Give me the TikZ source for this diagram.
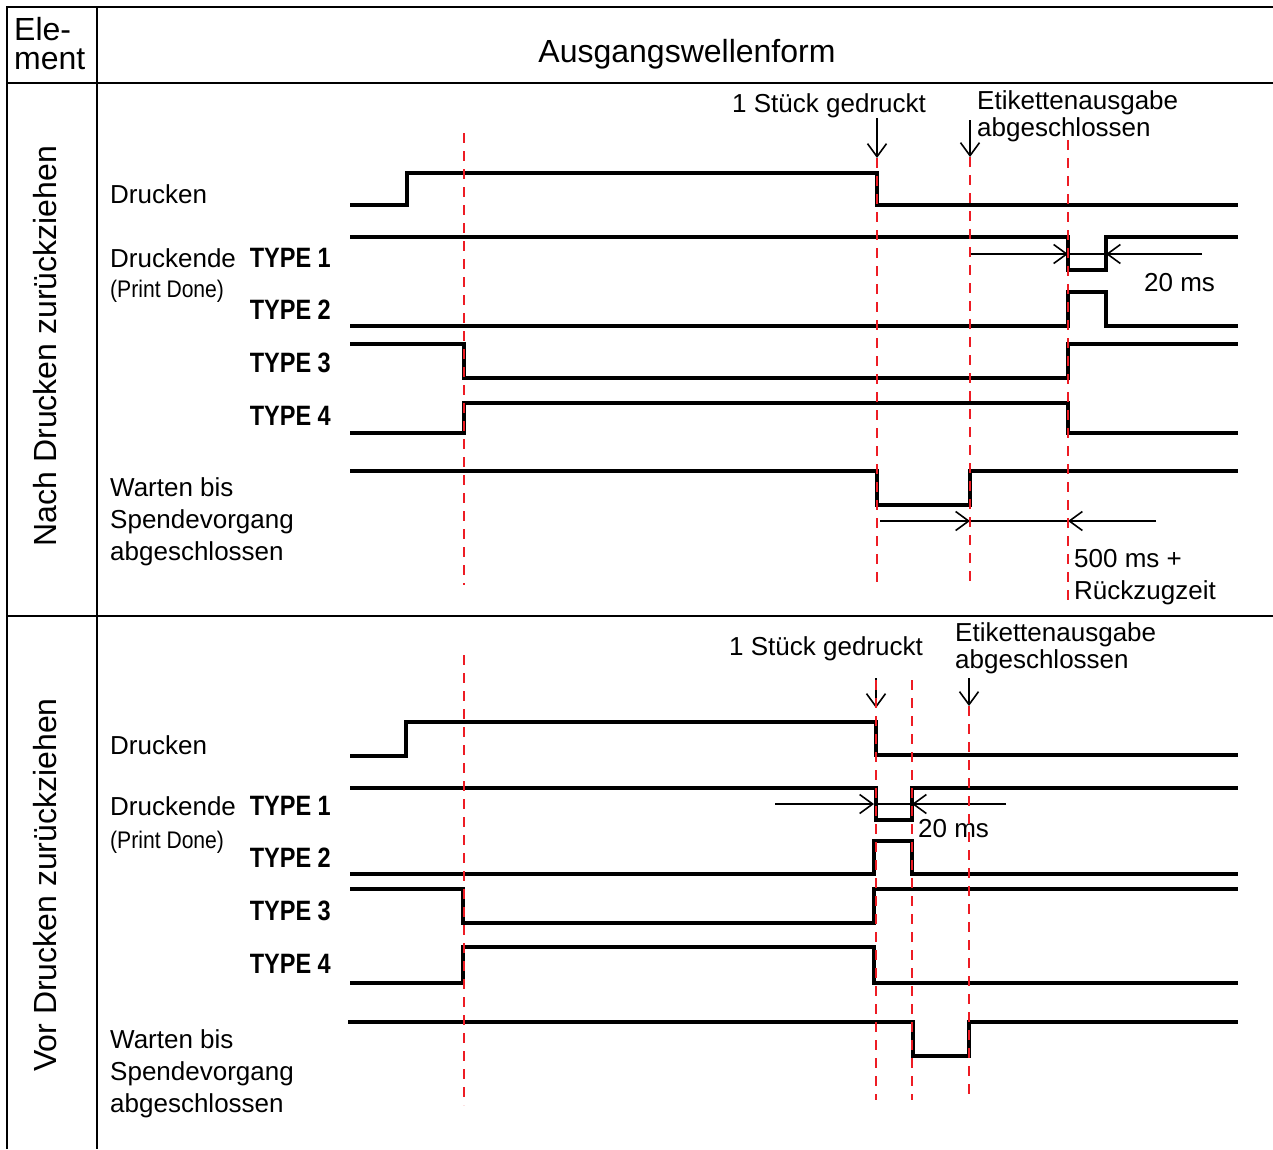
\documentclass[tikz,border=0pt]{standalone}
\usepackage{fontspec}
\setmainfont{Liberation Sans}
\newfontfamily\typefont[FakeStretch=0.84]{Liberation Sans}
\newfontfamily\pdfont[FakeStretch=0.88]{Liberation Sans}
\usetikzlibrary{arrows.meta}
\definecolor{dashred}{RGB}{237,28,36}
\begin{document}
\begin{tikzpicture}[x=1pt,y=-1pt,
 frame/.style={line width=2pt},
 sig/.style={line width=3.3pt, line join=miter},
 guide/.style={dashred, line width=2.8pt, dash pattern=on 10pt off 8pt},
 arr/.style={line width=1.6pt, -{Straight Barb[length=13pt,width=19pt]}},
 thinln/.style={line width=1.5pt},
 lbl/.style={font=\fontsize{26}{30}\selectfont, inner sep=0pt, anchor=base west},
 typ/.style={font=\typefont\bfseries\fontsize{28}{32}\selectfont, inner sep=0pt, anchor=base east},
 pd/.style={font=\pdfont\fontsize{24}{28}\selectfont, inner sep=0pt, anchor=base west},
 head/.style={font=\fontsize{32}{36}\selectfont, inner sep=0pt},
]
\useasboundingbox[fill=white] (0,0) rectangle (1273,1149);

% frame
\draw[frame] (7,1149) -- (7,7) -- (1273,7);
\draw[frame] (97,7) -- (97,1149);
\draw[frame] (7,83) -- (1273,83);
\draw[frame] (7,616) -- (1273,616);

% header
\node[head, anchor=base west] (ele) at (14,40) {Ele-};
\node[head, anchor=base west] (ment) at (14,69) {ment};
\node[head, anchor=base] (aus) at (687,62) {Ausgangswellenform};
\node[head, anchor=base, rotate=90] (nach) at (56,346) {Nach Drucken zurückziehen};
\node[head, anchor=base, rotate=90] (vor) at (56,885) {Vor Drucken zurückziehen};

% ---------- upper section ----------
\node[lbl] (u-dr) at (110,203) {Drucken};
\node[lbl] (u-de) at (110,267) {Druckende};
\node[pd] (u-pd) at (110,297) {(Print Done)};
\node[typ] (u-t1) at (331,267) {TYPE 1};
\node[typ] (u-t2) at (331,319) {TYPE 2};
\node[typ] (u-t3) at (331,372) {TYPE 3};
\node[typ] (u-t4) at (331,425) {TYPE 4};
\node[lbl] (u-w1) at (110,496) {Warten bis};
\node[lbl] (u-w2) at (110,528) {Spendevorgang};
\node[lbl] (u-w3) at (110,560) {abgeschlossen};

\draw[sig] (350,205) -| (407,173) -| (877,205) -- (1238,205);
\draw[sig] (350,237) -| (1068,270) -| (1106,237) -- (1238,237);
\draw[sig] (350,326) -| (1068,292) -| (1106,326) -- (1238,326);
\draw[sig] (350,344) -| (464,378) -| (1068,344) -- (1238,344);
\draw[sig] (350,433) -| (464,403) -| (1068,433) -- (1238,433);
\draw[sig] (350,471) -| (877,505) -| (970,471) -- (1238,471);

\node[lbl, anchor=base] (u-st) at (829,112) {1 Stück gedruckt};
\node[lbl] (u-et1) at (977,109) {Etikettenausgabe};
\node[lbl] (u-et2) at (977,136) {abgeschlossen};
\coordinate (u-a1s) at (877,118); \coordinate (u-a1e) at (877,158);
\coordinate (u-a2s) at (970,120); \coordinate (u-a2e) at (970,157);
\draw[arr] (u-a1s) -- (u-a1e);
\draw[arr] (u-a2s) -- (u-a2e);

\coordinate (u-p1) at (970,254); \coordinate (u-p2) at (1068,254);
\coordinate (u-p3) at (1106,254); \coordinate (u-p4) at (1202,254);
\draw[arr] (u-p1) -- (u-p2);
\draw[thinln] (u-p2) -- (u-p3);
\draw[arr] (u-p4) -- (u-p3);
\node[lbl] (u-20) at (1144,291) {20 ms};

\coordinate (u-q1) at (880,521); \coordinate (u-q2) at (970,521);
\coordinate (u-q3) at (1068,521); \coordinate (u-q4) at (1156,521);
\draw[arr] (u-q1) -- (u-q2);
\draw[thinln] (u-q2) -- (u-q3);
\draw[arr] (u-q4) -- (u-q3);
\node[lbl] (u-500) at (1074,567) {500 ms +};
\node[lbl] (u-rz) at (1074,599) {Rückzugzeit};

\draw[guide] (464,133) -- (464,585);
\draw[guide] (877,158) -- (877,585);
\draw[guide] (970,157) -- (970,585);
\draw[guide] (1068,140) -- (1068,600);

% ---------- lower section ----------
\node[lbl] (l-dr) at (110,754) {Drucken};
\node[lbl] (l-de) at (110,815) {Druckende};
\node[pd] (l-pd) at (110,848) {(Print Done)};
\node[typ] (l-t1) at (331,815) {TYPE 1};
\node[typ] (l-t2) at (331,867) {TYPE 2};
\node[typ] (l-t3) at (331,920) {TYPE 3};
\node[typ] (l-t4) at (331,973) {TYPE 4};
\node[lbl] (l-w1) at (110,1048) {Warten bis};
\node[lbl] (l-w2) at (110,1080) {Spendevorgang};
\node[lbl] (l-w3) at (110,1112) {abgeschlossen};

\draw[sig] (350,756) -| (406,722) -| (876,755) -- (1238,755);
\draw[sig] (350,788) -| (876,820) -| (912,788) -- (1238,788);
\draw[sig] (350,874) -| (874,841) -| (912,874) -- (1238,874);
\draw[sig] (350,889) -| (463,923) -| (874,889) -- (1238,889);
\draw[sig] (350,983) -| (463,947) -| (874,983) -- (1238,983);
\draw[sig] (348,1022) -| (913,1056) -| (969,1022) -- (1238,1022);

\node[lbl, anchor=base] (l-st) at (826,655) {1 Stück gedruckt};
\node[lbl] (l-et1) at (955,641) {Etikettenausgabe};
\node[lbl] (l-et2) at (955,668) {abgeschlossen};
\coordinate (l-a1s) at (876,678); \coordinate (l-a1e) at (876,708);
\coordinate (l-a2s) at (969,678); \coordinate (l-a2e) at (969,706);
\draw[arr] (l-a1s) -- (l-a1e);
\draw[arr] (l-a2s) -- (l-a2e);

\coordinate (l-p1) at (775,804); \coordinate (l-p2) at (874,804);
\coordinate (l-p3) at (912,804); \coordinate (l-p4) at (1006,804);
\draw[arr] (l-p1) -- (l-p2);
\draw[thinln] (l-p2) -- (l-p3);
\draw[arr] (l-p4) -- (l-p3);
\node[lbl] (l-20) at (918,837) {20 ms};

\draw[guide] (464,655) -- (464,1105);
\draw[guide] (876,680) -- (876,1100);
\draw[guide] (912,680) -- (912,1100);
\draw[guide] (969,706) -- (969,1100);
\end{tikzpicture}
\end{document}
